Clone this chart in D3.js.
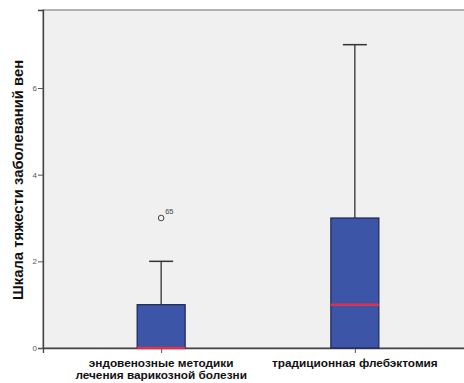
<!DOCTYPE html>
<html>
<head>
<meta charset="utf-8">
<script src="https://cdn.jsdelivr.net/npm/d3@7"></script>
<style>
  body { margin: 0; background: #fff; }
  svg { display: block; font-family: Arial, "Liberation Sans", sans-serif; }
</style>
</head>
<body>
<div id="vis"></div>
<script>
const width = 464
const height = 383
const margin = { top: 10, right: -2, bottom: 35, left: 43 }

// data
const groups = ["эндовенозные методики\nлечения варикозной болезни", "традиционная флебэктомия"]
const lowWhisker = [0, 0]
const q1 = [0, 0]
const median = [0, 1]
const q3 = [1, 3]
const highWhisker = [2, 7]
const outliers = [{ group: 0, value: 3, label: "65" }]
const yTicks = [0, 2, 4, 6]
const yTitle = "Шкала тяжести заболеваний вен"

const svg = d3.select("#vis")
    .append("svg")
    .attr("width", width)
    .attr("height", height)

// the plot runs off the right edge, so the category scale does too
const x = d3.scalePoint()
    .domain(d3.range(groups.length))
    .range([margin.left, 473])
    .padding(0.61)

const y = d3.scaleLinear()
    .domain([0, 7.8])
    .range([height - margin.bottom, margin.top])

const boxW = 48

// plot background
svg.append("rect")
    .attr("x", margin.left)
    .attr("y", margin.top)
    .attr("width", width - margin.right - margin.left)
    .attr("height", y(0) - margin.top)
    .attr("fill", "#f0f0f0")
    .attr("stroke", "#9a9a9a")
    .attr("stroke-width", 1.5)

// y axis
const yAxis = svg.append("g")
    .attr("transform", `translate(${margin.left},0)`)
    .call(d3.axisLeft(y).tickValues(yTicks).tickSize(5).tickFormat(d3.format("d")))
yAxis.select(".domain").attr("stroke", "#444").attr("stroke-width", 1.3)
yAxis.selectAll(".tick line").attr("stroke", "#555")
yAxis.selectAll(".tick text").attr("fill", "#555").attr("font-size", 8).attr("dx", 2)

// x axis baseline
const xAxis = svg.append("g")
    .attr("transform", `translate(0,${y(0)})`)
    .call(d3.axisBottom(x).tickSize(5).tickFormat(""))
xAxis.select(".domain").attr("stroke", "#444").attr("stroke-width", 1.3)
xAxis.selectAll(".tick line").attr("stroke", "#555")

const idx = d3.range(groups.length)

// whiskers
svg.selectAll(".whisker")
    .data(idx)
    .join("line")
    .attr("x1", i => x(i)).attr("x2", i => x(i))
    .attr("y1", i => y(q3[i])).attr("y2", i => y(highWhisker[i]))
    .attr("stroke", "#333").attr("stroke-width", 1.3)
svg.selectAll(".cap")
    .data(idx)
    .join("line")
    .attr("x1", i => x(i) - boxW / 4).attr("x2", i => x(i) + boxW / 4)
    .attr("y1", i => y(highWhisker[i])).attr("y2", i => y(highWhisker[i]))
    .attr("stroke", "#333").attr("stroke-width", 1.5)

// boxes
svg.selectAll(".box")
    .data(idx)
    .join("rect")
    .attr("x", i => x(i) - boxW / 2)
    .attr("y", i => y(q3[i]))
    .attr("width", boxW)
    .attr("height", i => y(q1[i]) - y(q3[i]))
    .attr("fill", "#3d55a6")
    .attr("stroke", "#1c2555")
    .attr("stroke-width", 1.2)

// medians
svg.selectAll(".median")
    .data(idx)
    .join("line")
    .attr("x1", i => x(i) - boxW / 2).attr("x2", i => x(i) + boxW / 2)
    .attr("y1", i => y(median[i])).attr("y2", i => y(median[i]))
    .attr("stroke", "#e0304e").attr("stroke-width", 2.5)

// outliers
svg.selectAll(".outlier")
    .data(outliers)
    .join("circle")
    .attr("cx", d => x(d.group))
    .attr("cy", d => y(d.value))
    .attr("r", 2.8)
    .attr("fill", "none")
    .attr("stroke", "#444")
    .attr("stroke-width", 1)
svg.selectAll(".outlier-label")
    .data(outliers)
    .join("text")
    .attr("x", d => x(d.group) + 4)
    .attr("y", d => y(d.value) - 4)
    .attr("font-size", 7.5)
    .attr("fill", "#444")
    .text(d => d.label)

// category labels
svg.selectAll(".cat")
    .data(idx)
    .join("text")
    .attr("text-anchor", "middle")
    .attr("font-size", 11.8)
    .attr("font-weight", "bold")
    .attr("fill", "#111")
    .each(function (i) {
        const lines = groups[i].split("\n")
        d3.select(this).selectAll("tspan")
            .data(lines)
            .join("tspan")
            .attr("x", x(i))
            .attr("y", (d, j) => y(0) + 18.5 + j * 12.5)
            .text(d => d)
    })

// y title
svg.append("text")
    .attr("transform", `translate(23,${(margin.top + y(0)) / 2 + 1}) rotate(-90)`)
    .attr("text-anchor", "middle")
    .attr("font-size", 14.8)
    .attr("font-weight", "bold")
    .attr("fill", "#111")
    .text(yTitle)
</script>
</body>
</html>
